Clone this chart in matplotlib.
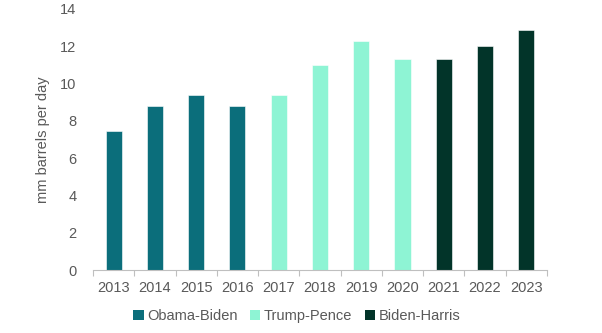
import numpy as np
import matplotlib.pyplot as plt
from matplotlib.patches import Patch

plt.rcParams['font.family'] = ['Liberation Sans', 'DejaVu Sans']

years = ["2013", "2014", "2015", "2016", "2017", "2018", "2019", "2020", "2021", "2022", "2023"]
production = [7.45, 8.8, 9.4, 8.8, 9.4, 11.0, 12.3, 11.3, 11.3, 12.0, 12.9]
administration = ["Obama-Biden"] * 4 + ["Trump-Pence"] * 4 + ["Biden-Harris"] * 3

admin_names = ["Obama-Biden", "Trump-Pence", "Biden-Harris"]
admin_colors = {"Obama-Biden": "#0b6e7b", "Trump-Pence": "#8ef4d4", "Biden-Harris": "#023429"}

grey = "#595959"

fig = plt.figure(figsize=(6.02, 3.33), dpi=100)
ax = fig.add_axes([0.1545, 0.189, 0.754, 0.784])

x = np.arange(len(years))
colors = [admin_colors[a] for a in administration]
ax.bar(x, production, width=0.39, color=colors, edgecolor="white", linewidth=0.4)

ax.set_xlim(-0.5, len(years) - 0.5)
ax.set_ylim(0, 14)
ax.set_yticks(np.arange(0, 15, 2))
ax.set_xticks(x)
ax.set_xticklabels(years)
ax.set_xticks(np.arange(-0.5, len(years), 1), minor=True)

ax.tick_params(axis="x", which="major", length=0, pad=8, labelsize=10.5, labelcolor=grey)
ax.tick_params(axis="x", which="minor", length=4, color="#bfbfbf", width=0.8)
ax.tick_params(axis="y", length=0, pad=12, labelsize=10.5, labelcolor=grey)

for side in ["top", "right", "left"]:
    ax.spines[side].set_visible(False)
ax.spines["bottom"].set_color("#bfbfbf")
ax.spines["bottom"].set_linewidth(0.8)

ax.set_ylabel("mm barrels per day", fontsize=10.5, color=grey, labelpad=7)

handles = [Patch(facecolor=admin_colors[n], edgecolor="none") for n in admin_names]
fig.legend(handles, admin_names, loc="center", bbox_to_anchor=(0.493, 0.05), ncol=3,
           frameon=False, fontsize=10.5, handlelength=0.7, handleheight=0.7,
           handletextpad=0.25, columnspacing=0.85, labelcolor=grey)

fig.savefig("out.png", dpi=100)
